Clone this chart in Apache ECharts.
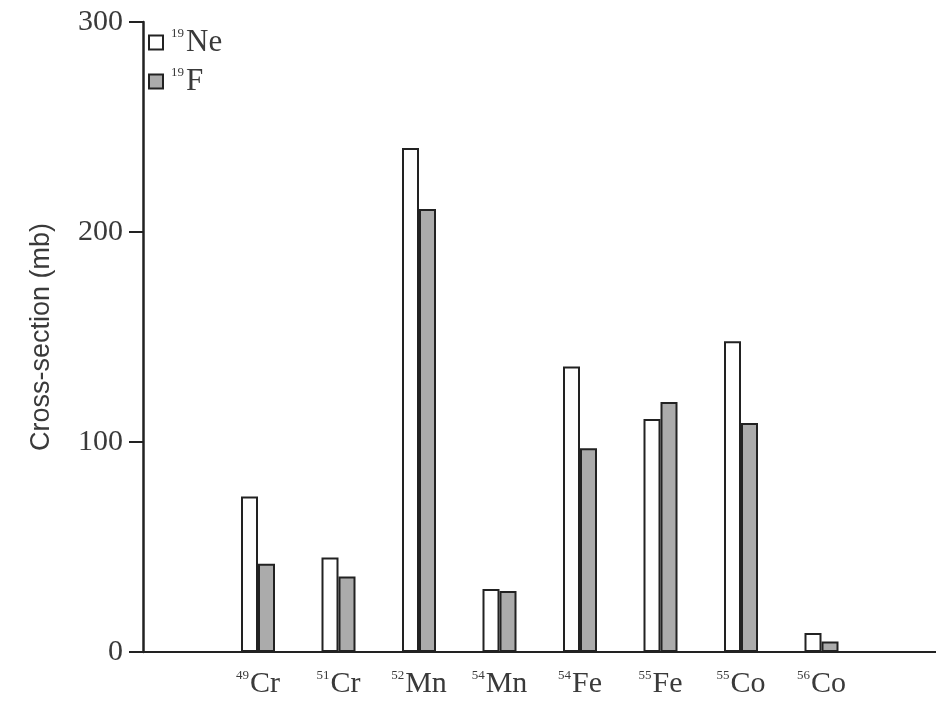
<!DOCTYPE html>
<html>
<head>
<meta charset="utf-8">
<script src="https://cdn.jsdelivr.net/npm/echarts@6/dist/echarts.min.js"></script>
<style>html,body{margin:0;padding:0;background:#fff;}#c{width:936px;height:701px;}</style>
</head>
<body>
<div id="c"></div>
<script>
var massNumbers = ['49', '51', '52', '54', '54', '55', '55', '56'];
var elements = ['Cr', 'Cr', 'Mn', 'Mn', 'Fe', 'Fe', 'Co', 'Co'];
var categories = massNumbers.map(function (m, i) { return m + elements[i]; });
var neValues = [74, 45, 240, 30, 136, 111, 148, 9];
var fValues = [42, 36, 211, 29, 97, 119, 109, 5];
var yTicks = [0, 100, 200, 300];
var seriesNames = ['19Ne', '19F'];

var chart = echarts.init(document.getElementById('c'), null, {renderer: 'canvas'});
var serif = '"Liberation Serif", "Times New Roman", serif';
var richSup = {
  sup: {fontFamily: serif, fontSize: 13, color: '#3a3a3a', verticalAlign: 'top', padding: [0, 1, 13, 0]},
  base: {fontFamily: serif, fontSize: 30, color: '#3a3a3a'}
};
var richLegend = {
  sup: {fontFamily: serif, fontSize: 13, color: '#3a3a3a', verticalAlign: 'top', padding: [0, 2, 13, 3]},
  base: {fontFamily: serif, fontSize: 31, color: '#3a3a3a'}
};
function supFmt(v) {
  var m = v.match(/^(\d+)(.*)$/);
  if (!m) return v;
  return '{sup|' + m[1] + '}{base|' + m[2] + '}';
}
var option = {
  animation: false,
  backgroundColor: '#fff',
  grid: [
    {left: 143, right: 0, top: 22, bottom: 49},
    {left: 217.75, width: 644, top: 22, bottom: 49}
  ],
  legend: {
    orient: 'vertical',
    left: 143,
    top: 22,
    itemWidth: 14,
    itemHeight: 14,
    itemGap: 8,
    icon: 'rect',
    data: seriesNames,
    formatter: supFmt,
    textStyle: {rich: richLegend, lineHeight: 30}
  },
  xAxis: [
    {
      type: 'category', gridIndex: 0, data: [''],
      axisLine: {lineStyle: {color: '#222', width: 2}},
      axisTick: {show: false}, axisLabel: {show: false}
    },
    {
      type: 'category', gridIndex: 1, data: categories,
      axisLine: {show: false}, axisTick: {show: false},
      axisLabel: {formatter: supFmt, rich: richSup, margin: 17, interval: 0}
    }
  ],
  yAxis: [
    {
      type: 'value', gridIndex: 0, min: yTicks[0], max: yTicks[yTicks.length - 1], interval: 100,
      name: 'Cross-section (mb)', nameLocation: 'middle', nameGap: 88,
      nameTextStyle: {fontFamily: '"Liberation Sans", Arial, sans-serif', fontSize: 27, color: '#3a3a3a'},
      axisLine: {show: true, lineStyle: {color: '#222', width: 2.5}},
      axisTick: {show: true, length: 14, inside: false, lineStyle: {color: '#222', width: 2}},
      axisLabel: {fontFamily: serif, fontSize: 30, color: '#3a3a3a', margin: 20},
      splitLine: {show: false}
    },
    {
      type: 'value', gridIndex: 1, min: yTicks[0], max: yTicks[yTicks.length - 1],
      show: false, splitLine: {show: false}
    }
  ],
  series: [
    {
      name: seriesNames[0], type: 'bar', xAxisIndex: 1, yAxisIndex: 1,
      data: neValues, barWidth: 17, barGap: '0%',
      itemStyle: {color: '#ffffff', borderColor: '#222', borderWidth: 2}
    },
    {
      name: seriesNames[1], type: 'bar', xAxisIndex: 1, yAxisIndex: 1,
      data: fValues, barWidth: 17, barGap: '0%',
      itemStyle: {color: '#ababab', borderColor: '#222', borderWidth: 2}
    }
  ]
};
chart.setOption(option);
</script>
</body>
</html>
